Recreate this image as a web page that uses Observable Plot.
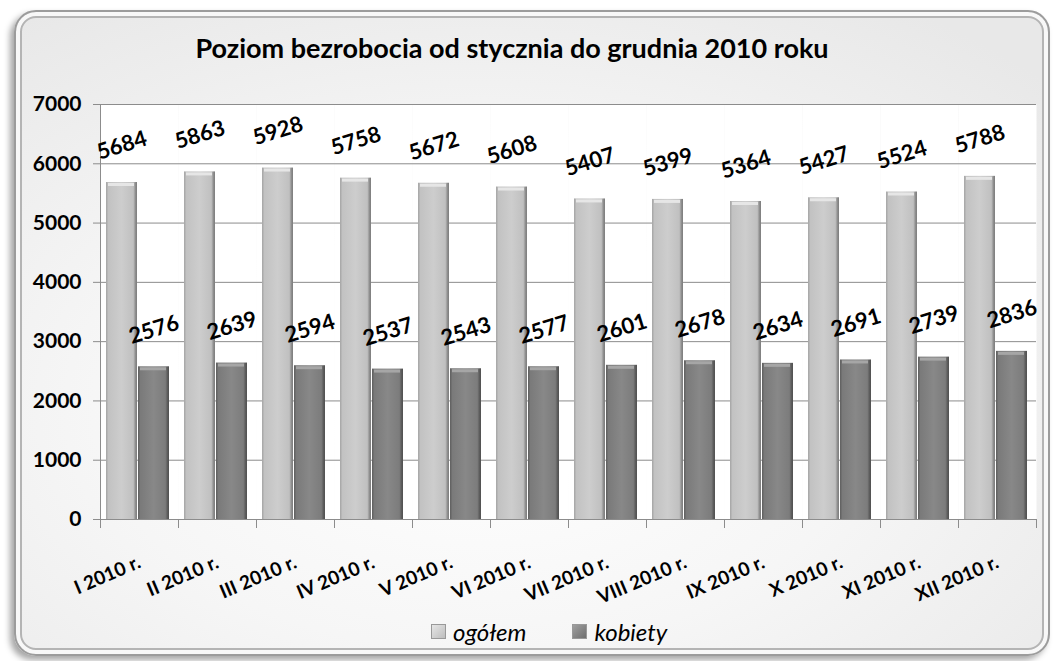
<!DOCTYPE html>
<html><head><meta charset="utf-8">
<script src="https://cdn.jsdelivr.net/npm/d3@7"></script>
<script src="https://cdn.jsdelivr.net/npm/@observablehq/plot@0.6"></script>
<style>
body{margin:0;background:#fff;}
#wrap{position:relative;width:1056px;height:661px;overflow:hidden;font-family:Lato,"Open Sans",sans-serif;}
#card{position:absolute;left:14px;top:10px;width:1032px;height:642px;border-radius:22px;border:2px solid #9c9c9c;
 background:radial-gradient(ellipse 75% 75% at 45% 62%, #ffffff 0%, #f6f6f6 50%, #e8e8e8 100%);
 box-shadow:-4px 4px 6px rgba(0,0,0,0.35), inset 0 0 0 4px #f8f8f8, inset 0 0 0 6px #b4b4b4;}
#title{position:absolute;left:0;width:1024px;top:31px;text-align:center;font-weight:bold;font-size:27px;color:#000;}
#chart{position:absolute;left:0;top:0;}
#legend{position:absolute;top:617px;left:431px;font-style:italic;font-size:24px;display:flex;align-items:center;color:#000;}
#legend .item{display:flex;align-items:center;margin-right:46px;}
#legend .sw{width:13px;height:13px;margin-right:7px;border:1px solid #999;}
</style></head>
<body>
<div id="wrap">
  <div id="card"></div>
  <div id="chart"></div>
  <div id="title"></div>
  <div id="legend"></div>
</div>
<script>
const title = "Poziom bezrobocia od stycznia do grudnia 2010 roku";
const months = ["I 2010 r.","II 2010 r.","III 2010 r.","IV 2010 r.","V 2010 r.","VI 2010 r.","VII 2010 r.","VIII 2010 r.","IX 2010 r.","X 2010 r.","XI 2010 r.","XII 2010 r."];
const seriesNames = ["ogółem","kobiety"];
const ogolem = [5684,5863,5928,5758,5672,5608,5407,5399,5364,5427,5524,5788];
const kobiety = [2576,2639,2594,2537,2543,2577,2601,2678,2634,2691,2739,2836];
const yTicks = [0,1000,2000,3000,4000,5000,6000,7000];

const data = months.flatMap((m,i)=>[
  {month:m, series:seriesNames[0], value:ogolem[i]},
  {month:m, series:seriesNames[1], value:kobiety[i]}
]);

document.getElementById("title").textContent = title;

const W = 1056, H = 661, mT = 104, mB = 142, mL = 100, mR = 20;
const frameH = H - mT - mB;

const chart = Plot.plot({
  width:W, height:H,
  marginLeft:mL, marginRight:mR, marginTop:mT, marginBottom:mB,
  style:{background:"transparent", fontFamily:"Lato, 'Open Sans', sans-serif", overflow:"visible", color:"#000"},
  fx:{domain:months, padding:0, label:null},
  x:{domain:seriesNames, paddingOuter:0.2, paddingInner:0.02, align:0.4, axis:null},
  y:{domain:[0,7000], label:null},
  marks:[
    Plot.frame({fill:"white", stroke:null}),
    Plot.gridY(yTicks, {stroke:"#8c8c8c", strokeOpacity:1}),
    Plot.frame({anchor:"left", stroke:"#8c8c8c", facetAnchor:"left"}),
    // small category-boundary ticks below the baseline
    Plot.frame({anchor:"left", stroke:"#8c8c8c", insetTop:frameH, insetBottom:-8}),
    Plot.frame({anchor:"right", stroke:"#8c8c8c", insetTop:frameH, insetBottom:-8, facetAnchor:"right"}),
    Plot.axisY(yTicks, {tickSize:7, tickPadding:12, fontSize:21, fontWeight:"bold", stroke:"#8c8c8c", tickFormat:d=>String(d), label:null}),
    Plot.axisFx({anchor:"bottom", tickSize:0, tickRotate:-23, tickPadding:42, fontSize:19, fontWeight:"bold", label:null}),
    Plot.barY(data.filter(d=>d.series===seriesNames[0]), {fx:"month", x:"series", y:"value", fill:"url(#gLight)"}),
    Plot.barY(data.filter(d=>d.series===seriesNames[1]), {fx:"month", x:"series", y:"value", fill:"url(#gDark)"}),
    // subtle bevel highlight at bar tops
    Plot.tickY(data.filter(d=>d.series===seriesNames[0]), {fx:"month", x:"series", y:"value", stroke:"#e6e6e6", strokeWidth:3, dy:2, insetLeft:2, insetRight:3}),
    Plot.tickY(data.filter(d=>d.series===seriesNames[1]), {fx:"month", x:"series", y:"value", stroke:"#a6a6a6", strokeWidth:3, dy:2, insetLeft:2, insetRight:3}),
    Plot.text(data, {fx:"month", x:"series", y:"value", text:d=>String(d.value), dy:-37, rotate:-17, fontSize:22, fontWeight:"bold", fill:"#000"}),
    Plot.ruleY([0], {stroke:"#8c8c8c"})
  ]
});

const svg = d3.select(chart.tagName.toLowerCase()==="svg" ? chart : chart.querySelector("svg"));
const defs = svg.insert("defs", ":first-child");
function grad(id, stops){
  const g = defs.append("linearGradient").attr("id", id).attr("x1","0").attr("x2","1").attr("y1","0").attr("y2","0");
  stops.forEach(([o,c])=>g.append("stop").attr("offset",o).attr("stop-color",c));
}
grad("gLight", [[0,"#a4a4a4"],[0.08,"#c2c2c2"],[0.5,"#cdcdcd"],[0.88,"#c0c0c0"],[0.95,"#8e8e8e"],[1,"#7c7c7c"]]);
grad("gDark", [[0,"#5e5e5e"],[0.08,"#7a7a7a"],[0.5,"#888888"],[0.88,"#7c7c7c"],[0.95,"#5c5c5c"],[1,"#505050"]]);
document.getElementById("chart").appendChild(chart);

const legend = document.getElementById("legend");
const swFill = ["linear-gradient(135deg,#e6e6e6,#bdbdbd)","linear-gradient(135deg,#a0a0a0,#6e6e6e)"];
seriesNames.forEach((s,i)=>{
  const it = document.createElement("div"); it.className="item";
  const sw = document.createElement("span"); sw.className="sw"; sw.style.background=swFill[i];
  const t = document.createElement("span"); t.textContent=s;
  it.appendChild(sw); it.appendChild(t); legend.appendChild(it);
});
</script>
</body></html>
